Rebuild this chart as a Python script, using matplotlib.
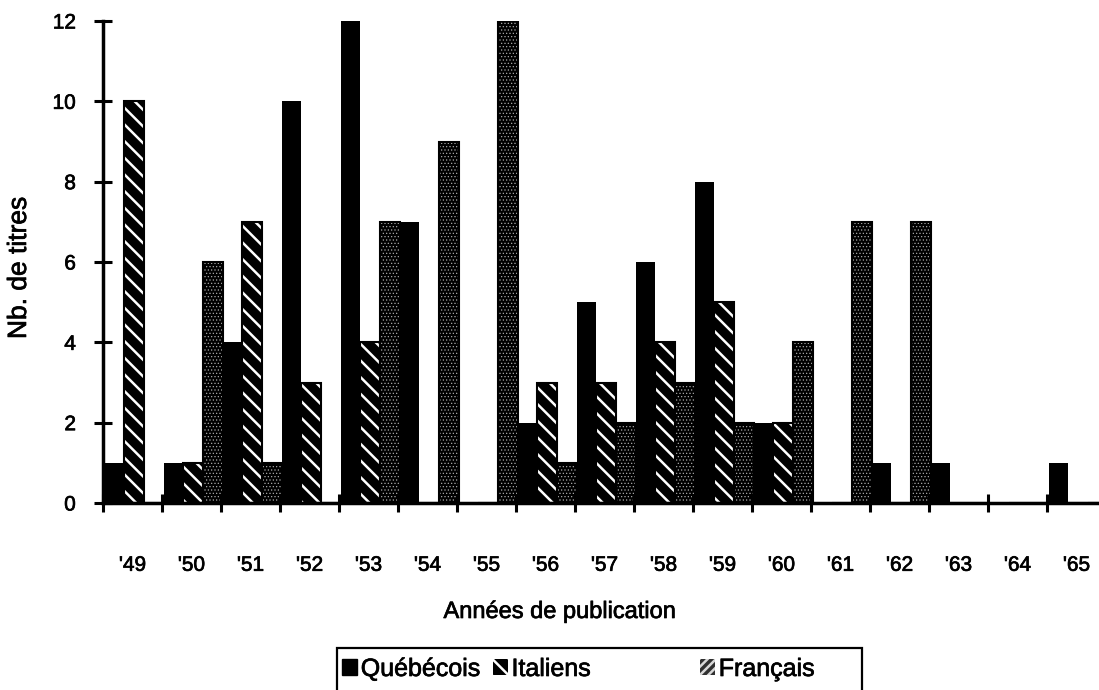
import numpy as np
import matplotlib
matplotlib.use("Agg")
import matplotlib.pyplot as plt
from matplotlib.patches import Patch, Rectangle
import matplotlib.patheffects as pe

# data
years = ["'49", "'50", "'51", "'52", "'53", "'54", "'55", "'56", "'57",
         "'58", "'59", "'60", "'61", "'62", "'63", "'64", "'65"]
quebecois = [1, 1, 4, 10, 12, 7, 0, 2, 5, 6, 8, 2, 0, 1, 1, 0, 1]
italiens = [10, 1, 7, 3, 4, 0, 0, 3, 3, 4, 5, 2, 0, 0, 0, 0, 0]
francais = [0, 6, 1, 0, 7, 9, 12, 1, 2, 3, 2, 4, 7, 7, 0, 0, 0]
series_names = ["Québécois", "Italiens", "Français"]

plt.rcParams['font.family'] = ['Liberation Sans', 'DejaVu Sans']
plt.rcParams['hatch.linewidth'] = 1.8

# slightly heavier strokes, like the scanned print
heavy = [pe.withStroke(linewidth=0.5, foreground='black')]

fig = plt.figure(figsize=(10.99, 6.90), dpi=100)
ax = fig.add_axes([103 / 1099, 1 - 503 / 690, 1 - 103 / 1099, (503 - 21) / 690])

x = np.arange(len(years))
w = 1 / 3

# Québécois : solid black
ax.bar(x + 0.03, quebecois, width=w, align='edge', color='black', linewidth=0)

# Italiens : black with white diagonal stripes
ax.bar(x + 0.03 + w, italiens, width=w, align='edge', facecolor='black',
       edgecolor='white', hatch='\\\\', linewidth=0)
ax.bar(x + 0.03 + w, italiens, width=w, align='edge', fill=False,
       edgecolor='black', linewidth=1.5)

# Français : black with fine light dots
b2 = ax.bar(x + 0.03 + 2 * w, francais, width=w, align='edge', facecolor='black',
            edgecolor='#a8a8a8', hatch='.....', linewidth=0)
for p in b2:
    if hasattr(p, 'set_hatch_linewidth'):
        p.set_hatch_linewidth(0.5)
ax.bar(x + 0.03 + 2 * w, francais, width=w, align='edge', fill=False,
       edgecolor='black', linewidth=1.5)

ax.set_xlim(0, (1099 - 103) / 59)
ax.set_ylim(0, 12)

for s in ['top', 'right']:
    ax.spines[s].set_visible(False)
ax.spines['left'].set_linewidth(2.5)
ax.spines['bottom'].set_linewidth(2.5)

ax.set_yticks(range(0, 13, 2))
ax.tick_params(axis='y', direction='inout', length=13, width=2.2, labelsize=15, pad=13)

ax.set_xticks(np.arange(0, 17))
ax.set_xticklabels([])
ax.set_xticks(x + 0.5, minor=True)
ax.set_xticklabels(years, minor=True)
ax.tick_params(axis='x', which='major', direction='inout', length=13, width=2.2)
ax.tick_params(axis='x', which='minor', length=0, labelsize=15, pad=38)
for t in ax.yaxis.get_major_ticks() + ax.xaxis.get_major_ticks():
    t.tick1line.set_clip_on(False)
for lab in ax.get_yticklabels() + ax.get_xticklabels(minor=True):
    lab.set_path_effects(heavy)

fig.text(560 / 1099, 1 - 612 / 690, "Années de publication", fontsize=17,
         ha='center', va='center', path_effects=heavy)
fig.text(19 / 1099, 1 - 268 / 690, "Nb. de titres", fontsize=19,
         ha='center', va='center', rotation=90, path_effects=heavy)

# legend: framed box cut off by the bottom edge of the page
fig.patches.append(Rectangle((337 / 1099, -0.05), (862 - 337) / 1099,
                             0.05 + 1 - 648 / 690, transform=fig.transFigure,
                             fill=False, edgecolor='black', linewidth=1.6))

handles = [
    Patch(facecolor='black', edgecolor='black'),
    Patch(facecolor='black', edgecolor='white', hatch='\\\\', linewidth=0),
    Patch(facecolor='#303030', edgecolor='#d8d8d8', hatch='////', linewidth=0),
]
leg_kw = dict(loc='center left', frameon=False, fontsize=18, handlelength=0.6,
              handleheight=0.6, handletextpad=0.15, columnspacing=0.5,
              borderpad=0, borderaxespad=0)
leg1 = fig.legend(handles[:2], series_names[:2], ncol=2,
                  bbox_to_anchor=(342 / 1099, 1 - 669 / 690), **leg_kw)
leg2 = fig.legend(handles[2:], series_names[2:], ncol=1,
                  bbox_to_anchor=(700 / 1099, 1 - 669 / 690), **leg_kw)
for lg in (leg1, leg2):
    for t in lg.get_texts():
        t.set_path_effects(heavy)

fig.savefig("out.png", dpi=100)
